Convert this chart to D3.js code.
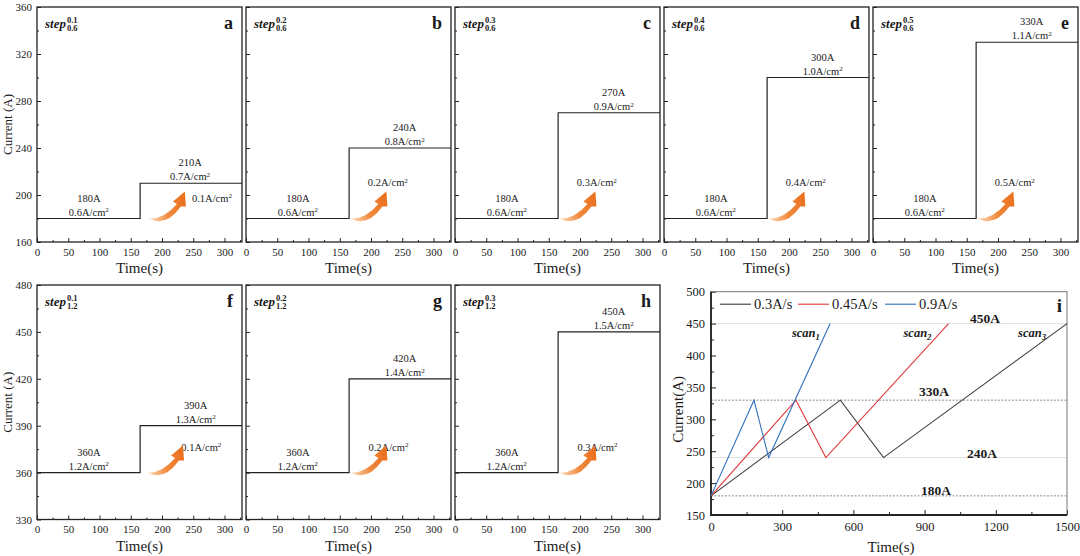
<!DOCTYPE html>
<html>
<head>
<meta charset="utf-8">
<script src="https://cdn.jsdelivr.net/npm/d3@7"></script>
<style>
    body { margin: 0; background: #fff; }
    svg, svg text { font-family: "Liberation Serif", "DejaVu Serif", serif; }
    svg text { fill: #1a1a1a; }
    .tick line { stroke: #222; }
</style>
</head>
<body>
<div id="wrapper"></div>
<script>
// 1. Data

const stepTime = 165
const stepEnd = 328
const stepTicksX = [0, 50, 100, 150, 200, 250, 300]

const topBase = 180
const topBaseDensity = "0.6"
const topHigh = [210, 240, 270, 300, 330]
const topHighDensity = ["0.7", "0.8", "0.9", "1.0", "1.1"]
const topDelta = ["0.1", "0.2", "0.3", "0.4", "0.5"]
const topStepSup = ["0.1", "0.2", "0.3", "0.4", "0.5"]
const topStepSub = "0.6"
const topLetters = ["a", "b", "c", "d", "e"]
const topTicksY = [160, 200, 240, 280, 320, 360]

const bottomBase = 360
const bottomBaseDensity = "1.2"
const bottomHigh = [390, 420, 450]
const bottomHighDensity = ["1.3", "1.4", "1.5"]
const bottomDelta = ["0.1", "0.2", "0.3"]
const bottomStepSup = ["0.1", "0.2", "0.3"]
const bottomStepSub = "1.2"
const bottomLetters = ["f", "g", "h"]
const bottomTicksY = [330, 360, 390, 420, 450, 480]

const scanRates = ["0.3A/s", "0.45A/s", "0.9A/s"]
const scanTimes = [
    [0, 545, 727, 1500],
    [0, 358, 484, 1001],
    [0, 181, 243, 502],
]
const scanCurrents = [180, 330, 240, 450]
const scanNames = ["3", "2", "1"]
const scanLevels = [180, 240, 330, 450]
const scanTicksX = [0, 300, 600, 900, 1200, 1500]
const scanTicksY = [150, 200, 250, 300, 350, 400, 450, 500]

// 2. Dimensions / styles

const width = 1080
const height = 556
const scanColors = ["#3a3a3a", "#e0393b", "#2f6fbf"]
const serif = "'Liberation Serif', 'DejaVu Serif', serif"

const svg = d3.select("#wrapper")
    .append("svg")
    .attr("width", width)
    .attr("height", height)
    .attr("font-family", serif)

const defs = svg.append("defs")
const grad = defs.append("linearGradient")
    .attr("id", "arrow-grad")
    .attr("x1", "0%").attr("y1", "50%")
    .attr("x2", "100%").attr("y2", "30%")
grad.append("stop").attr("offset", "0%").attr("stop-color", "#fbd2ad")
grad.append("stop").attr("offset", "45%").attr("stop-color", "#f08a3e")
grad.append("stop").attr("offset", "100%").attr("stop-color", "#ea6f1c")

function densityText(sel, value) {
    sel.text(null)
    sel.append("tspan").text(`${value}A/cm`)
    sel.append("tspan").attr("font-size", "0.68em").attr("dy", "-0.45em").text("2")
}

function stepLabel(g, x, y, sup, sub) {
    const main = g.append("text")
        .attr("x", x).attr("y", y)
        .attr("font-size", 13)
        .attr("font-weight", "bold")
        .attr("font-style", "italic")
        .text("step")
    const w = main.node().getComputedTextLength()
    g.append("text")
        .attr("x", x + w + 1).attr("y", y - 5)
        .attr("font-size", 8.5).attr("font-weight", "bold")
        .text(sup)
    g.append("text")
        .attr("x", x + w + 1).attr("y", y + 3)
        .attr("font-size", 8.5).attr("font-weight", "bold")
        .text(sub)
}

// orange curved arrow, drawn relative to its tail point
const arrowPath = "M0,0 Q17,9 32,-12 L37,-12 L36,-27 L24,-17 L28,-14.5 Q15,1 0,0 Z"

function styleTicks(axisG, size) {
    axisG.select(".domain").remove()
    axisG.attr("font-family", serif)
    axisG.selectAll("text").attr("font-size", size).attr("fill", "#1a1a1a")
}

function drawStepPanel(opt) {
    const g = svg.append("g")
        .attr("transform", `translate(${opt.x0},${opt.y0})`)

    const x = d3.scaleLinear().domain([0, stepEnd]).range([0, opt.w])
    const y = d3.scaleLinear().domain(opt.yDomain).range([opt.h, 0])

    // axes (inward ticks)
    g.append("g")
        .attr("transform", `translate(0,${opt.h})`)
        .call(d3.axisBottom(x).tickValues(stepTicksX).tickSize(-4).tickPadding(6))
        .call(styleTicks, 11)

    g.append("g")
        .attr("transform", `translate(0,${opt.h})`)
        .call(d3.axisBottom(x).tickValues(d3.range(25, stepEnd, 50)).tickSize(-2).tickFormat(""))
        .call(styleTicks, 11)

    const yStep = opt.yTicks[1] - opt.yTicks[0]
    g.append("g")
        .call(d3.axisLeft(y).tickValues(opt.yTicks).tickSize(-4).tickPadding(5)
            .tickFormat(opt.showY ? d3.format("d") : ""))
        .call(styleTicks, 11)

    g.append("g")
        .call(d3.axisLeft(y)
            .tickValues(d3.range(opt.yDomain[0] + yStep / 2, opt.yDomain[1], yStep))
            .tickSize(-2).tickFormat(""))
        .call(styleTicks, 11)

    g.append("rect")
        .attr("width", opt.w).attr("height", opt.h)
        .attr("fill", "none")
        .attr("stroke", "#222")
        .attr("stroke-width", 1.3)

    // step signal
    const stepData = [
        {t: 0, v: opt.base},
        {t: stepTime, v: opt.high},
        {t: stepEnd, v: opt.high},
    ]
    g.append("path")
        .datum(stepData)
        .attr("fill", "none")
        .attr("stroke", "#222")
        .attr("stroke-width", 1.2)
        .attr("d", d3.line().x(d => x(d.t)).y(d => y(d.v)).curve(d3.curveStepAfter))

    // level annotations
    const lab = (t, v, dy) => g.append("text")
        .attr("x", x(t)).attr("y", y(v) + dy)
        .attr("text-anchor", "middle")
        .attr("font-size", 10.5)

    lab(83, opt.base, -17).text(`${opt.base}A`)
    lab(83, opt.base, -3).call(densityText, opt.baseDensity)
    lab(opt.highT, opt.high, -17).text(`${opt.high}A`)
    lab(opt.highT, opt.high, -3).call(densityText, opt.highDensity)
    lab(opt.deltaT, opt.deltaV, 3).call(densityText, opt.delta)

    g.append("path")
        .attr("transform", `translate(${x(opt.arrowT)},${y(opt.base)})`)
        .attr("d", arrowPath)
        .attr("fill", "url(#arrow-grad)")

    stepLabel(g, 8, 21, opt.sup, opt.sub)

    g.append("text")
        .attr("x", opt.w - 9).attr("y", 22)
        .attr("text-anchor", "end")
        .attr("font-size", 18)
        .attr("font-weight", "bold")
        .text(opt.letter)

    g.append("text")
        .attr("x", opt.w / 2).attr("y", opt.h + 31)
        .attr("text-anchor", "middle")
        .attr("font-size", 15)
        .text("Time(s)")

    if (opt.showY) {
        g.append("text")
            .attr("transform", `translate(${-opt.x0 + 12},${opt.h / 2}) rotate(-90)`)
            .attr("text-anchor", "middle")
            .attr("font-size", 13)
            .text("Current (A)")
    }
}

// 3. Step panels

topHigh.forEach((high, i) => {
    drawStepPanel({
        x0: 37 + i * 209, y0: 7, w: 205, h: 235,
        yDomain: [160, 360], yTicks: topTicksY, showY: i === 0,
        base: topBase, high: high,
        baseDensity: topBaseDensity, highDensity: topHighDensity[i],
        delta: topDelta[i],
        highT: i === 0 ? 245 : 254,
        deltaT: i === 0 ? 280 : 227,
        deltaV: i === 0 ? 197 : 210,
        arrowT: i === 0 ? 179 : 167,
        sup: topStepSup[i], sub: topStepSub,
        letter: topLetters[i],
    })
})

bottomHigh.forEach((high, i) => {
    drawStepPanel({
        x0: 37 + i * 209, y0: 285, w: 205, h: 234.5,
        yDomain: [330, 480], yTicks: bottomTicksY, showY: i === 0,
        base: bottomBase, high: high,
        baseDensity: bottomBaseDensity, highDensity: bottomHighDensity[i],
        delta: bottomDelta[i],
        highT: 254,
        deltaT: i === 0 ? 263 : 228,
        deltaV: 376,
        arrowT: i === 0 ? 176 : 167,
        sup: bottomStepSup[i], sub: bottomStepSub,
        letter: bottomLetters[i],
    })
})

// 4. Scan panel (i)

const pi = {x0: 711, y0: 291.7, w: 356, h: 223.3}
const gi = svg.append("g").attr("transform", `translate(${pi.x0},${pi.y0})`)
const xs = d3.scaleLinear().domain([0, 1500]).range([0, pi.w])
const ys = d3.scaleLinear().domain([150, 500]).range([pi.h, 0])

scanLevels.forEach(lv => {
    const dark = lv === 180 || lv === 330
    gi.append("line")
        .attr("x1", 0).attr("x2", pi.w)
        .attr("y1", ys(lv)).attr("y2", ys(lv))
        .attr("stroke", dark ? "#8a8a8a" : "#dedede")
        .attr("stroke-width", 1)
        .attr("stroke-dasharray", dark ? "2,1.5" : null)
})

gi.append("g")
    .attr("transform", `translate(0,${pi.h})`)
    .call(d3.axisBottom(xs).tickValues(scanTicksX).tickSize(-5).tickPadding(7).tickFormat(d3.format("d")))
    .call(styleTicks, 12.5)
gi.append("g")
    .attr("transform", `translate(0,${pi.h})`)
    .call(d3.axisBottom(xs).tickValues(d3.range(150, 1500, 300)).tickSize(-3).tickFormat(""))
    .call(styleTicks, 12.5)

gi.append("g")
    .call(d3.axisLeft(ys).tickValues(scanTicksY).tickSize(-5).tickPadding(6).tickFormat(d3.format("d")))
    .call(styleTicks, 12.5)
gi.append("g")
    .call(d3.axisLeft(ys).tickValues(d3.range(175, 500, 50)).tickSize(-3).tickFormat(""))
    .call(styleTicks, 12.5)

gi.append("rect")
    .attr("width", pi.w).attr("height", pi.h)
    .attr("fill", "none")
    .attr("stroke", "#777")
    .attr("stroke-width", 1)
gi.append("path")
    .attr("d", `M0,0V${pi.h}H${pi.w}`)
    .attr("fill", "none")
    .attr("stroke", "#222")
    .attr("stroke-width", 1.8)

const scanLine = d3.line().x(d => xs(d[0])).y(d => ys(d[1]))
scanTimes.forEach((times, i) => {
    gi.append("path")
        .datum(times.map((t, j) => [t, scanCurrents[j]]))
        .attr("fill", "none")
        .attr("stroke", scanColors[i])
        .attr("stroke-width", 1.1)
        .attr("d", scanLine)
})

// level labels
const levelLabelT = {180: 948, 240: 1142, 330: 940, 450: 1155}
const levelLabelDy = {180: -1, 240: 0, 330: -4, 450: -1}
scanLevels.forEach(lv => {
    gi.append("text")
        .attr("x", xs(levelLabelT[lv])).attr("y", ys(lv) + levelLabelDy[lv])
        .attr("text-anchor", "middle")
        .attr("font-size", 13.5)
        .attr("font-weight", "bold")
        .text(`${lv}A`)
})

// scan labels
const scanLabelT = [1353, 870, 400]
scanNames.forEach((n, i) => {
    const t = gi.append("text")
        .attr("x", xs(scanLabelT[i])).attr("y", ys(429))
        .attr("text-anchor", "middle")
        .attr("font-size", 12.5)
        .attr("font-weight", "bold")
        .attr("font-style", "italic")
    t.append("tspan").text("scan")
    t.append("tspan").attr("font-size", "0.7em").attr("dy", "0.3em").text(n)
})

// legend
const legendX = [9, 87, 174]
scanRates.forEach((r, i) => {
    gi.append("line")
        .attr("x1", legendX[i]).attr("x2", legendX[i] + 31)
        .attr("y1", 12.5).attr("y2", 12.5)
        .attr("stroke", scanColors[i])
        .attr("stroke-width", 1.1)
    gi.append("text")
        .attr("x", legendX[i] + 34).attr("y", 17.5)
        .attr("font-size", 14.5)
        .text(r)
})

gi.append("text")
    .attr("x", pi.w - 5).attr("y", 20)
    .attr("text-anchor", "end")
    .attr("font-size", 19)
    .attr("font-weight", "bold")
    .text("i")

gi.append("text")
    .attr("x", pi.w / 2 + 2).attr("y", pi.h + 37)
    .attr("text-anchor", "middle")
    .attr("font-size", 15)
    .text("Time(s)")

gi.append("text")
    .attr("transform", `translate(-28,${pi.h / 2 + 6}) rotate(-90)`)
    .attr("text-anchor", "middle")
    .attr("font-size", 15)
    .text("Current(A)")
</script>
</body>
</html>
